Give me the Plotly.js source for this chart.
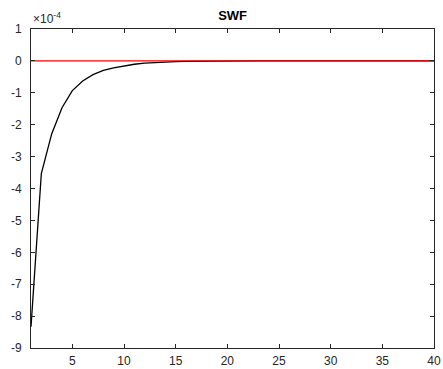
<!DOCTYPE html>
<html>
<head>
<meta charset="utf-8">
<script src="https://cdn.plot.ly/plotly-3.0.1.min.js"></script>
<style>html,body{margin:0;padding:0;background:#fff;}#chart{width:443px;height:369px;}</style>
</head>
<body>
<div id="chart"></div>
<script>
var periods = [1,2,3,4,5,6,7,8,9,10,11,12,13,14,15,16,17,18,19,20,21,22,23,24,25,26,27,28,29,30,31,32,33,34,35,36,37,38,39,40];
var swf = [-8.33e-4,-3.53e-4,-2.29e-4,-1.47e-4,-0.93e-4,-0.63e-4,-0.43e-4,-0.30e-4,-0.22e-4,-0.155e-4,
           -0.105e-4,-0.072e-4,-0.050e-4,-0.034e-4,-0.023e-4,-0.016e-4,-0.011e-4,-0.0075e-4,-0.005e-4,-0.0035e-4,
           -0.0024e-4,-0.0016e-4,-0.0011e-4,-0.0008e-4,-0.0005e-4,-0.0004e-4,-0.0003e-4,-0.0002e-4,-0.0001e-4,-0.0001e-4,
           0,0,0,0,0,0,0,0,0,0];
var zeroLine = [0,0,0,0,0,0,0,0,0,0,0,0,0,0,0,0,0,0,0,0,0,0,0,0,0,0,0,0,0,0,0,0,0,0,0,0,0,0,0,0];
var yTickVals = [1e-4,0,-1e-4,-2e-4,-3e-4,-4e-4,-5e-4,-6e-4,-7e-4,-8e-4,-9e-4];
var yTickText = ["1","0","-1","-2","-3","-4","-5","-6","-7","-8","-9"];
var xTickVals = [5,10,15,20,25,30,35,40];
var xTickText = ["5","10","15","20","25","30","35","40"];

var axisColor = '#262626';
var tickFont = {family: 'Liberation Sans, Arial, sans-serif', size: 12, color: axisColor};

var traces = [
  {x: periods, y: swf, type: 'scatter', mode: 'lines', line: {color: '#000000', width: 1.3}, hoverinfo: 'skip'},
  {x: periods, y: zeroLine, type: 'scatter', mode: 'lines', line: {color: '#ff0000', width: 1.3}, hoverinfo: 'skip'}
];

var layout = {
  width: 443, height: 369,
  margin: {l: 31, r: 9, t: 29, b: 21, pad: 0},
  paper_bgcolor: '#ffffff', plot_bgcolor: '#ffffff',
  showlegend: false,
  title: {text: '<b>SWF</b>', font: {family: 'Liberation Sans, Arial, sans-serif', size: 13, color: '#000'}, x: 0.525, xanchor: 'center', y: 0.97, yanchor: 'top'},
  xaxis: {
    range: [1, 40], tickvals: xTickVals, ticktext: xTickText,
    ticks: 'inside', ticklen: 4, tickwidth: 1, tickcolor: axisColor,
    showline: true, linecolor: axisColor, linewidth: 1, mirror: 'ticks',
    showgrid: false, zeroline: false, tickfont: tickFont, ticklabelstandoff: 2
  },
  yaxis: {
    range: [-9e-4, 1e-4], tickvals: yTickVals, ticktext: yTickText,
    ticks: 'inside', ticklen: 4, tickwidth: 1, tickcolor: axisColor,
    showline: true, linecolor: axisColor, linewidth: 1, mirror: 'ticks',
    showgrid: false, zeroline: false, tickfont: tickFont, ticklabelstandoff: 6
  },
  annotations: [{
    xref: 'paper', yref: 'paper', x: 0, y: 1, xanchor: 'left', yanchor: 'bottom', yshift: 1,
    text: '\u00d710<sup>-4</sup>', showarrow: false,
    font: {family: 'Liberation Sans, Arial, sans-serif', size: 12, color: axisColor}
  }]
};

Plotly.newPlot('chart', traces, layout, {staticPlot: true, displayModeBar: false});
</script>
</body>
</html>
